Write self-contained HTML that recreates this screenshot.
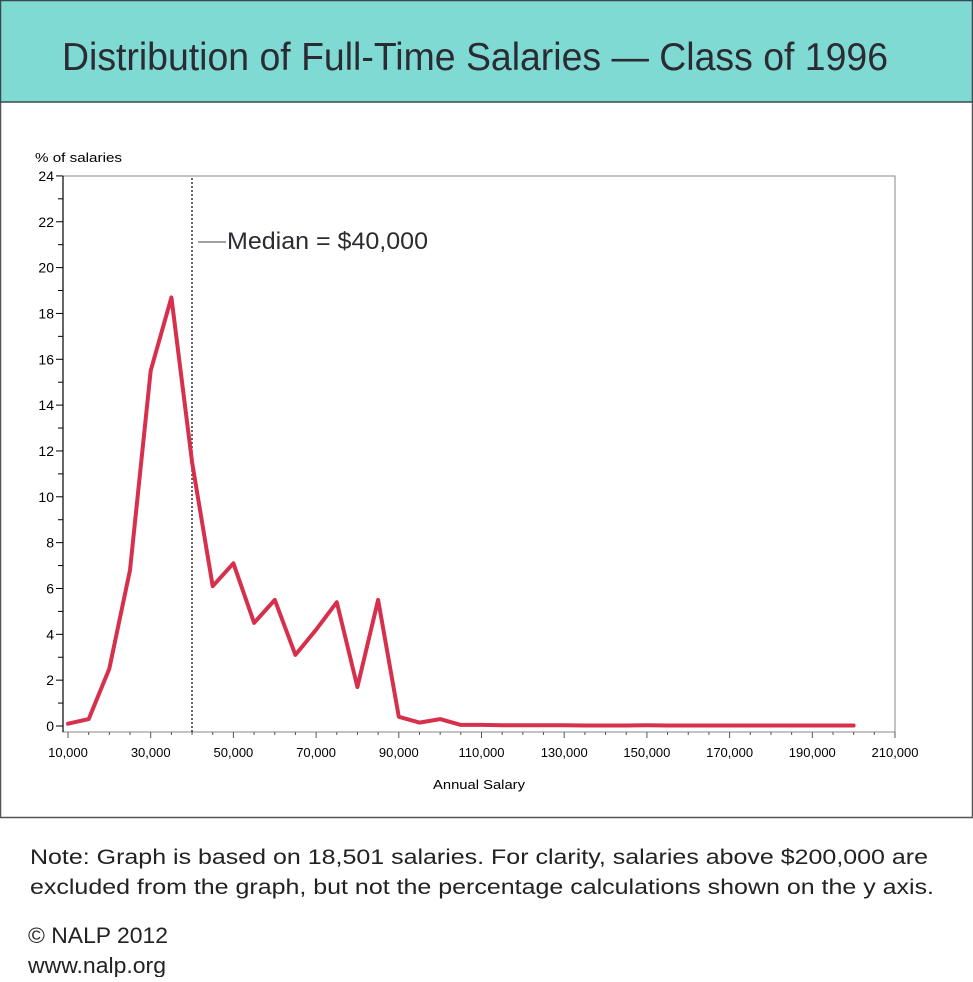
<!DOCTYPE html>
<html><head><meta charset="utf-8"><style>
body{margin:0;background:#fff;width:973px;height:977px;overflow:hidden}
</style></head><body>
<svg width="973" height="977" xmlns="http://www.w3.org/2000/svg" font-family="Liberation Sans, sans-serif">
<rect x="0.5" y="0.5" width="972" height="817" fill="#fff" stroke="#555" stroke-width="1.5"/>
<rect x="0.5" y="0.5" width="972" height="101.5" fill="#7fdad3" stroke="#3a4a50" stroke-width="1.5"/>
<text x="62" y="70" font-size="39" fill="#2b2b33" textLength="826" lengthAdjust="spacingAndGlyphs">Distribution of Full-Time Salaries — Class of 1996</text>
<text x="35" y="162" font-size="13" fill="#000" textLength="87" lengthAdjust="spacingAndGlyphs">%  of  salaries</text>
<rect x="63" y="176" width="832" height="556" fill="none" stroke="#888" stroke-width="1"/>
<line x1="63" y1="176" x2="63" y2="732" stroke="#000" stroke-width="1.2"/>
<g id="yt" stroke="#000" stroke-width="1"></g>
<g id="yl" font-size="14" text-anchor="end" fill="#000"></g>
<g id="xt" stroke="#555" stroke-width="1"></g>
<g id="xl" font-size="13" text-anchor="middle" fill="#000"></g>
<line x1="192" y1="178" x2="192" y2="732" stroke="#333" stroke-width="1.5" stroke-dasharray="2,2"/>
<line x1="198" y1="242" x2="226" y2="242" stroke="#444" stroke-width="1"/>
<text x="227" y="249" font-size="24" fill="#2b2b33" textLength="201" lengthAdjust="spacingAndGlyphs">Median = $40,000</text>
<polyline id="ln" fill="none" stroke="#d6304c" stroke-width="4" stroke-linejoin="round" stroke-linecap="round"/>
<text x="479" y="789" font-size="13" text-anchor="middle" fill="#000" textLength="92" lengthAdjust="spacingAndGlyphs">Annual  Salary</text>
<text x="30" y="864" font-size="21" fill="#222" textLength="898" lengthAdjust="spacingAndGlyphs">Note: Graph is based on 18,501 salaries. For clarity, salaries above $200,000 are</text>
<text x="30" y="894" font-size="21" fill="#222" textLength="904" lengthAdjust="spacingAndGlyphs">excluded from the graph, but not the percentage calculations shown on the y axis.</text>
<text x="28" y="943" font-size="22" fill="#222" textLength="140" lengthAdjust="spacingAndGlyphs">© NALP 2012</text>
<text x="28" y="973" font-size="22" fill="#222" textLength="138" lengthAdjust="spacingAndGlyphs">www.nalp.org</text>
</svg>
<script>
var ns="http://www.w3.org/2000/svg";
function X(v){return 68+(v-10)*4.135}
function Y(p){return 726-22.92*p}
function el(g,t,a,txt){var e=document.createElementNS(ns,t);for(var k in a)e.setAttribute(k,a[k]);if(txt)e.textContent=txt;document.getElementById(g).appendChild(e)}
for(var i=0;i<=24;i++){var y=Y(i);el("yt","line",{x1:i%2?58:56,x2:63,y1:y,y2:y});if(i%2==0)el("yl","text",{x:54,y:y+5},""+i)}
for(var v=10;v<=210;v+=5){var x=X(v);var maj=(v-10)%20==0;el("xt","line",{x1:x,x2:x,y1:732,y2:maj?738:735});if(maj)el("xl","text",{x:x,y:757},v+",000")}
var d=[0.1,0.3,2.5,6.8,15.5,18.7,11.5,6.1,7.1,4.5,5.5,3.1,4.2,5.4,1.7,5.5,0.4,0.15,0.3,0.05,0.05,0.03,0.03,0.03,0.03,0.02,0.02,0.02,0.03,0.02,0.02,0.02,0.02,0.02,0.02,0.02,0.02,0.02,0.02];
var pts=d.map(function(p,i){return X(10+5*i).toFixed(1)+","+Y(p).toFixed(1)}).join(" ");
document.getElementById("ln").setAttribute("points",pts);
</script>
</body></html>
